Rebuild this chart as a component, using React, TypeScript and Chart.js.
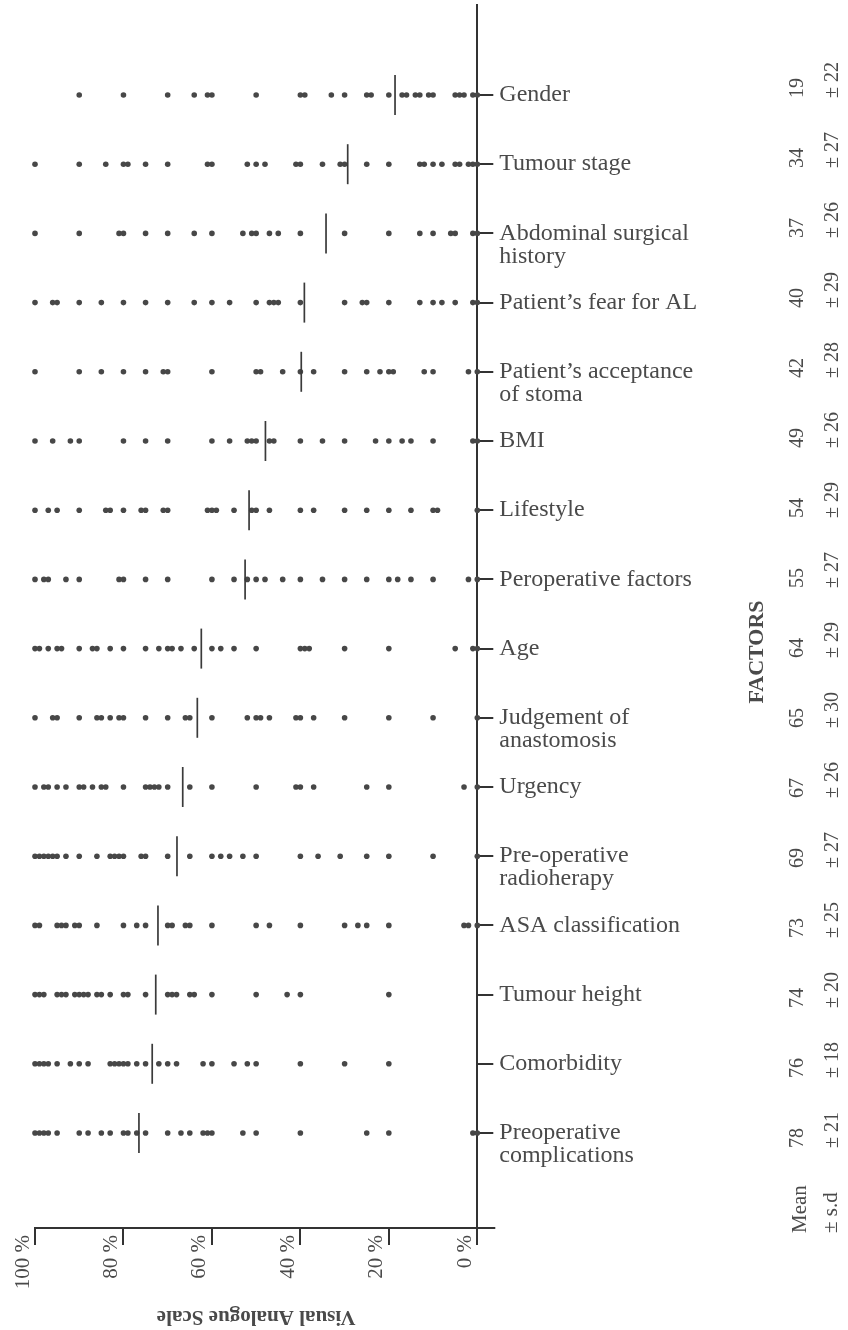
import { useEffect, useRef } from 'react';
import { Chart, registerables } from 'chart.js';

Chart.register(...registerables);

// ---- data ----
const factorLabels: (string | string[])[] = [
  'Gender',
  'Tumour stage',
  ['Abdominal surgical', 'history'],
  'Patient’s fear for AL',
  ['Patient’s acceptance', 'of stoma'],
  'BMI',
  'Lifestyle',
  'Peroperative factors',
  'Age',
  ['Judgement of', 'anastomosis'],
  'Urgency',
  ['Pre-operative', 'radioherapy'],
  'ASA classification',
  'Tumour height',
  'Comorbidity',
  ['Preoperative', 'complications'],
];

const meanLabels = ['19', '34', '37', '40', '42', '49', '54', '55', '64', '65', '67', '69', '73', '74', '76', '78'];
const sdLabels = ['22', '27', '26', '29', '28', '26', '29', '27', '29', '30', '26', '27', '25', '20', '18', '21'];

// position of the vertical marker drawn on each row
const markerValues = [18.6, 29.3, 34.2, 39.1, 39.8, 47.9, 51.6, 52.5, 62.4, 63.3, 66.6, 67.9, 72.2, 72.7, 73.5, 76.5];

const xTickValues = [0, 20, 40, 60, 80, 100];

const genderScores = [90, 80, 70, 64, 61, 60, 50, 40, 39, 33, 30, 25, 24, 20, 17, 16, 14, 13, 11, 10, 5, 4, 3, 1, 0];
const tumourStageScores = [100, 90, 84, 80, 79, 75, 70, 61, 60, 52, 50, 48, 41, 40, 35, 31, 30, 25, 20, 13, 12, 10, 8, 5, 4, 2, 1, 0];
const abdominalScores = [100, 90, 81, 80, 75, 70, 64, 60, 53, 51, 50, 47, 45, 40, 30, 20, 13, 10, 6, 5, 1, 0];
const fearScores = [100, 96, 95, 90, 85, 80, 75, 70, 64, 60, 56, 50, 47, 46, 45, 40, 30, 26, 25, 20, 13, 10, 8, 5, 1, 0];
const acceptanceScores = [100, 90, 85, 80, 75, 71, 70, 60, 50, 49, 44, 40, 37, 30, 25, 22, 20, 19, 12, 10, 2, 0];
const bmiScores = [100, 96, 92, 90, 80, 75, 70, 60, 56, 52, 51, 50, 47, 46, 40, 35, 30, 23, 20, 17, 15, 10, 1, 0];
const lifestyleScores = [100, 97, 95, 90, 84, 83, 80, 76, 75, 71, 70, 61, 60, 59, 55, 51, 50, 47, 40, 37, 30, 25, 20, 15, 10, 9, 0];
const peroperativeScores = [100, 98, 97, 93, 90, 81, 80, 75, 70, 60, 55, 52, 50, 48, 44, 40, 35, 30, 25, 20, 18, 15, 10, 2, 0];
const ageScores = [100, 99, 97, 95, 94, 90, 87, 86, 83, 80, 75, 72, 70, 69, 67, 64, 60, 58, 55, 50, 40, 39, 38, 30, 20, 5, 1, 0];
const judgementScores = [100, 96, 95, 90, 86, 85, 83, 81, 80, 75, 70, 66, 65, 60, 52, 50, 49, 47, 41, 40, 37, 30, 20, 10, 0];
const urgencyScores = [100, 98, 97, 95, 93, 90, 89, 87, 85, 84, 80, 75, 74, 73, 72, 70, 65, 60, 50, 41, 40, 37, 25, 20, 3, 0];
const radiotherapyScores = [100, 99, 98, 97, 96, 95, 93, 90, 86, 83, 82, 81, 80, 76, 75, 70, 65, 60, 58, 56, 53, 50, 40, 36, 31, 25, 20, 10, 0];
const asaScores = [100, 99, 95, 94, 93, 91, 90, 86, 80, 77, 75, 70, 69, 66, 65, 60, 50, 47, 40, 30, 27, 25, 20, 3, 2, 0];
const tumourHeightScores = [100, 99, 98, 95, 94, 93, 91, 90, 89, 88, 86, 85, 83, 80, 79, 75, 70, 69, 68, 65, 64, 60, 50, 43, 40, 20];
const comorbidityScores = [100, 99, 98, 97, 95, 92, 90, 88, 83, 82, 81, 80, 79, 77, 75, 72, 70, 68, 62, 60, 55, 52, 50, 40, 30, 20];
const complicationScores = [100, 99, 98, 97, 95, 90, 88, 85, 83, 80, 79, 77, 75, 70, 67, 65, 62, 61, 60, 53, 50, 40, 25, 20, 1, 0];

const rowScores = [
  genderScores, tumourStageScores, abdominalScores, fearScores, acceptanceScores, bmiScores,
  lifestyleScores, peroperativeScores, ageScores, judgementScores, urgencyScores, radiotherapyScores,
  asaScores, tumourHeightScores, comorbidityScores, complicationScores,
];

// ---- styles ----
const SERIF = '"Liberation Serif", "DejaVu Serif", serif';
const axisColor = '#333333';
const textColor = '#4a4a4a';
const dotColor = '#474747';

const textPlugin = {
  id: 'extraText',
  afterDraw(chart: any) {
    const { ctx, chartArea, scales } = chart;
    const yS = scales.y;
    ctx.save();
    // extension of the horizontal axis past the vertical axis
    const by = Math.round(chartArea.bottom - 1) + 1;
    ctx.strokeStyle = axisColor;
    ctx.lineWidth = 2;
    ctx.beginPath();
    ctx.moveTo(chartArea.right - 1, by);
    ctx.lineTo(chartArea.right + 18, by);
    ctx.stroke();

    ctx.fillStyle = textColor;
    ctx.textBaseline = 'middle';

    // x axis title, upside down
    ctx.save();
    ctx.font = `bold 21px ${SERIF}`;
    ctx.textAlign = 'center';
    ctx.translate((chartArea.left + chartArea.right) / 2, chartArea.bottom + 88);
    ctx.rotate(Math.PI);
    ctx.fillText('Visual Analogue Scale', 0, 0);
    ctx.restore();

    // mean and s.d. columns
    ctx.font = `20px ${SERIF}`;
    ctx.textAlign = 'left';
    meanLabels.forEach((m, i) => {
      const y0 = yS.getPixelForValue(i) + 3 + 0.8 * i;
      ctx.save();
      ctx.translate(798, y0);
      ctx.rotate(-Math.PI / 2);
      ctx.fillText(m, 0, 0);
      ctx.restore();
      ctx.save();
      ctx.translate(833, y0);
      ctx.rotate(-Math.PI / 2);
      ctx.fillText('± ' + sdLabels[i], 0, 0);
      ctx.restore();
    });

    ctx.font = `21px ${SERIF}`;
    ctx.save();
    ctx.translate(800, chartArea.bottom + 5);
    ctx.rotate(-Math.PI / 2);
    ctx.fillText('Mean', 0, 0);
    ctx.restore();
    ctx.save();
    ctx.translate(831, chartArea.bottom + 5);
    ctx.rotate(-Math.PI / 2);
    ctx.fillText('± s.d', 0, 0);
    ctx.restore();

    ctx.font = `bold 22px ${SERIF}`;
    ctx.textAlign = 'center';
    ctx.save();
    ctx.translate(757, 652);
    ctx.rotate(-Math.PI / 2);
    ctx.fillText('FACTORS', 0, 0);
    ctx.restore();

    ctx.restore();
  },
};

export default function App() {
  const ref = useRef<HTMLCanvasElement>(null);

  useEffect(() => {
    if (!ref.current) return;
    const dots = rowScores.flatMap((arr, i) => arr.map((v) => ({ x: v, y: i })));
    const markers = markerValues.map((v, i) => ({ x: v, y: i }));

    const chart = new Chart(ref.current, {
      type: 'scatter',
      data: {
        datasets: [
          {
            label: 'marker',
            data: markers,
            pointStyle: 'line',
            pointRadius: 20,
            pointRotation: 90,
            pointBorderColor: '#3a3a3a',
            pointBorderWidth: 1.7,
            pointBackgroundColor: '#3a3a3a',
            showLine: false,
            clip: false,
          } as any,
          {
            label: 'scores',
            data: dots,
            pointRadius: 2.8,
            pointBorderWidth: 0,
            pointBackgroundColor: dotColor,
            pointBorderColor: dotColor,
            showLine: false,
            clip: false,
          } as any,
        ],
      },
      options: {
        responsive: false,
        animation: false,
        events: [],
        layout: { autoPadding: false, padding: { left: 35, top: 5, right: 0, bottom: 0 } },
        plugins: {
          legend: { display: false },
          tooltip: { enabled: false },
          title: { display: false },
        },
        scales: {
          x: {
            type: 'linear',
            position: 'bottom',
            min: 0,
            max: 100,
            reverse: true,
            afterBuildTicks: (s: any) => {
              s.ticks = xTickValues.map((v) => ({ value: v }));
            },
            afterFit: (s: any) => {
              s.height = 102;
              s.paddingLeft = 0;
              s.paddingRight = 0;
            },
            border: { display: true, color: axisColor, width: 2 },
            grid: { drawOnChartArea: false, drawTicks: true, tickLength: 17, color: axisColor, lineWidth: 2 },
            ticks: {
              autoSkip: false,
              minRotation: 90,
              maxRotation: 90,
              padding: -10,
              labelOffset: -12,
              color: textColor,
              font: { family: SERIF, size: 21 },
              callback: (v: any) => `${v} %`,
            },
          },
          y: {
            type: 'linear',
            position: 'right',
            min: -1.3006,
            max: 16.373,
            reverse: true,
            afterBuildTicks: (s: any) => {
              s.ticks = factorLabels.map((_, i) => ({ value: i }));
            },
            afterFit: (s: any) => {
              s.width = 370.7;
              s.paddingTop = 0;
              s.paddingBottom = 0;
            },
            border: { display: true, color: axisColor, width: 2 },
            grid: { drawOnChartArea: false, drawTicks: true, tickLength: 16, color: axisColor, lineWidth: 2 },
            ticks: {
              autoSkip: false,
              padding: 6,
              color: textColor,
              font: { family: SERIF, size: 24, lineHeight: '23px' },
              callback: (v: any) => {
                const l = factorLabels[v];
                return Array.isArray(l) ? ['', ...l] : l;
              },
            },
          },
        },
      } as any,
      plugins: [textPlugin],
    });
    return () => chart.destroy();
  }, []);

  return (
    <div style={{ position: 'absolute', left: 0, top: 0, width: 848, height: 1330, background: '#ffffff' }}>
      <canvas ref={ref} width={848} height={1330} style={{ display: 'block' }} />
    </div>
  );
}
